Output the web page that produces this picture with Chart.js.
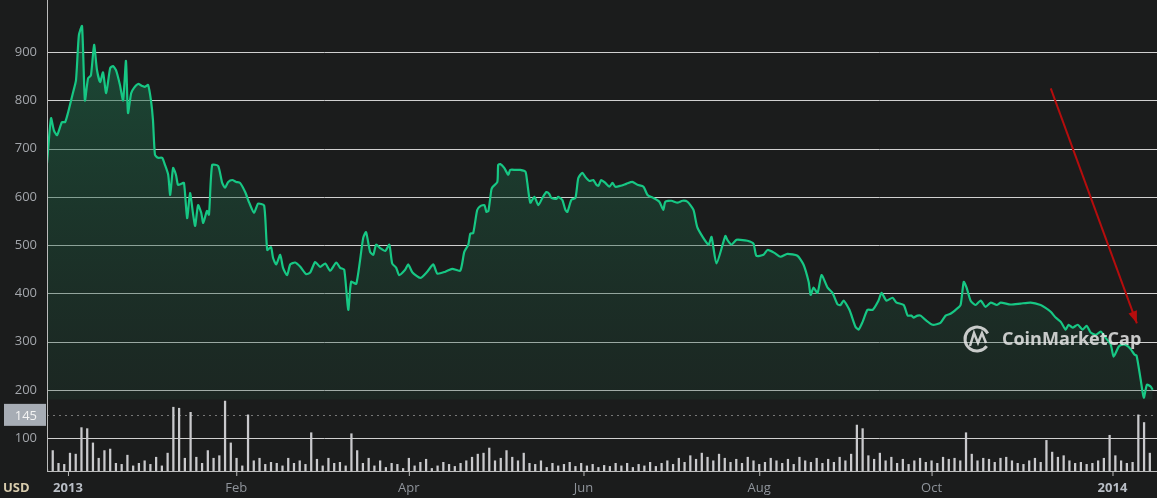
<!DOCTYPE html>
<html><head><meta charset="utf-8">
<script src="https://cdn.jsdelivr.net/npm/chart.js@4"></script>
<style>html,body{margin:0;padding:0;background:#1b1c1c;}#w{width:1157px;height:498px;}</style>
</head><body><div id="w"><canvas id="c"></canvas></div>
<script>
const priceDays=[0,1.4,2.4,3.5,5.2,6.3,7.3,9.1,10.1,11.1,12.2,13.2,14.3,15.3,16.4,17.4,18.5,19.5,20.6,22,23,24,25.4,26.5,27.5,28.2,29.3,30.3,31.7,33.1,34.1,35.2,36.2,36.9,37.6,38.7,40.1,41.1,42.2,42.9,43.9,44.9,45.6,46.7,47.7,48.8,49.8,50.9,51.6,52.6,53.7,54.4,55.7,56.4,57.5,59.6,61,62,63.1,64.5,65.9,67.2,69,70.4,72.1,73.5,75.6,76.7,78,78.7,79.8,81.2,82.2,83.6,84.7,86.4,88.2,90.2,91.6,93.4,95.1,96.9,98.6,100.7,102.1,103.5,104.9,105.9,107.7,110.1,111.1,112.5,113.6,114.6,116,117.8,119.2,120.2,121.6,122.6,124.7,125.8,127.2,130,132.4,134.5,135.9,138.7,141.1,143.9,145.3,146.7,147.4,148.4,149.8,150.9,152.3,153,153.7,154.7,155.1,156.8,157.1,157.8,159.2,160.6,161.3,163.1,164.8,166.6,167.2,168.3,169.7,171.1,172.5,173.9,174.9,175.6,177.4,178,179.4,180.5,181.2,182.6,184,185,186.4,187.5,188.9,190.2,191.3,192,193,194.4,195.8,196.9,197.9,199.7,201.7,203.8,205.6,207.7,209.1,211.1,213.2,214.6,215.3,217.4,219.5,221.3,223,225.1,226.5,230.3,231.4,233.1,236.2,236.9,238.3,240.1,241.5,243.9,246,247,249.5,250.9,253.3,255.4,257.8,261.3,263.4,265.2,265.9,266.9,268.3,269.7,271.8,273.5,275.3,276.3,277.4,279.4,281.5,282.6,284,285.7,287.5,289.5,290.6,292.3,294.4,295.8,298.3,299.7,301,301.7,303.1,304.2,305.9,308.4,311.1,312.9,314.6,316.4,318.1,319.2,320.2,321.6,323.3,325.1,326.8,328.6,330.7,332.1,335.5,339,342.5,346,347.7,349.5,351.2,353,354.7,355.7,357.1,358.9,360.6,362,363.4,365.2,366.9,368.6,370.4,371.4,373.2,374.6,376,377.4,378.7,379.4,380.8,381.9,383,384.3,385];
const prices=[670,763,738,728,755,755,774,817,842,935,954,800,846,852,915,863,838,858,815,867,871,863,832,800,882,774,815,826,834,830,828,832,800,759,687,681,681,666,646,604,660,646,625,627,629,556,608,563,540,583,567,546,571,563,666,664,629,619,631,635,631,629,610,588,567,586,582,490,496,474,460,480,453,438,460,464,455,440,443,465,455,462,447,464,453,449,366,424,420,515,527,486,480,501,494,488,501,462,453,438,449,460,444,432,445,460,441,445,451,447,486,501,524,525,573,581,583,569,571,614,620,631,666,668,660,646,656,656,656,652,631,588,600,583,598,610,606,598,596,600,594,573,569,594,598,639,650,641,633,635,625,623,635,629,621,629,621,623,627,631,625,621,604,598,590,573,590,592,588,592,590,573,536,501,517,462,519,511,501,511,511,509,503,478,480,490,484,476,482,478,460,424,397,412,401,438,412,401,377,376,385,366,331,325,341,366,366,385,401,385,391,381,376,354,354,350,354,354,345,335,339,354,358,366,376,424,412,385,376,385,372,381,376,381,377,379,381,376,370,362,350,341,325,335,329,335,325,333,319,314,321,308,294,269,290,294,292,284,273,271,222,184,211,207,200];
const volDays=[];for(let i=0;i<193;i++)volDays.push(i*2);
const volumes=[38,75,50,48,70,68,120,118,90,60,75,78,50,48,66,45,50,55,48,62,
45,70,160,158,60,150,62,50,75,60,65,172,90,60,45,145,55,60,48,52,
50,45,60,50,55,48,110,58,45,60,50,52,45,108,75,50,60,45,55,42,
50,48,40,60,45,52,58,40,45,52,48,44,50,55,62,68,70,80,55,60,
75,62,55,70,50,48,55,42,50,45,48,52,44,50,45,48,42,46,44,50,
45,50,42,48,45,52,44,50,55,48,60,52,65,58,70,62,55,68,60,52,
58,50,62,55,48,52,60,55,50,58,48,62,55,52,60,50,58,52,62,55,
68,125,118,65,58,70,55,62,50,58,48,55,60,52,55,50,62,58,60,55,
110,68,55,60,58,52,60,62,55,50,48,55,60,52,95,72,62,65,55,50,
52,48,50,55,60,105,65,55,50,52,145,130,70];
const priceTicks=[200,300,400,500,600,700,800,900];
const volTick=100, volMark=145;
const xTickDays=[7.3,65.9,126,186.8,248,308,371];
const xTickLabels=['2013','Feb','Apr','Jun','Aug','Oct','2014'];

const deco={id:'deco',
beforeDraw(ch){const c=ch.ctx;c.save();c.fillStyle='#1b1c1c';c.fillRect(0,0,ch.width,ch.height);
 const a=ch.chartArea,x=ch.scales.x,y=ch.scales.y,v=ch.scales.v;
 c.strokeStyle='#d0d0d0';c.lineWidth=1;
 priceTicks.forEach(t=>{const p=Math.round(y.getPixelForValue(t))+0.5;c.beginPath();c.moveTo(a.left,p);c.lineTo(a.right,p);c.stroke();});
 let p=Math.round(v.getPixelForValue(volTick))+0.5;c.beginPath();c.moveTo(a.left,p);c.lineTo(a.right,p);c.stroke();
 p=Math.round(v.getPixelForValue(volMark))+0.5;c.strokeStyle='#777';c.setLineDash([2,4]);c.beginPath();c.moveTo(a.left,p);c.lineTo(a.right,p);c.stroke();c.setLineDash([]);
 c.restore();},
afterDraw(ch){const c=ch.ctx;c.save();const a=ch.chartArea,x=ch.scales.x,y=ch.scales.y,v=ch.scales.v;
 c.strokeStyle='#bbb';c.lineWidth=1;c.beginPath();c.moveTo(a.left+0.5,0);c.lineTo(a.left+0.5,a.bottom);c.stroke();
 c.beginPath();c.moveTo(a.left,a.bottom+0.5);c.lineTo(a.right,a.bottom+0.5);c.stroke();
 c.font='13px "Open Sans", sans-serif';c.fillStyle='#a3a6ab';c.textAlign='right';c.textBaseline='middle';
 priceTicks.forEach(t=>c.fillText(String(t),37,y.getPixelForValue(t)));
 c.fillText(String(volTick),37,v.getPixelForValue(volTick));
 const mp=v.getPixelForValue(volMark);c.fillStyle='#a7adb5';c.fillRect(4,mp-11,42,22);c.fillStyle='#f4f4f4';c.fillText(String(volMark),37,mp+1);
 c.textAlign='center';c.textBaseline='middle';
 xTickDays.forEach((d,i)=>{const px=x.getPixelForValue(d);c.strokeStyle='#bbb';c.beginPath();c.moveTo(px+0.5,a.bottom);c.lineTo(px+0.5,a.bottom+5);c.stroke();
  const bold=/^\d+$/.test(xTickLabels[i]);c.font=(bold?'bold ':'')+'13px "Open Sans", sans-serif';c.fillStyle=bold?'#b9bec6':'#8f949b';c.fillText(xTickLabels[i],px,488);});
 c.font='bold 13px "Open Sans", sans-serif';c.fillStyle='#d8ccad';c.textAlign='left';c.fillText('USD',3,488);
 const x1=x.getPixelForValue(349.5),y1=y.getPixelForValue(825),x2=x.getPixelForValue(379.5),y2=y.getPixelForValue(338);
 c.strokeStyle='#b50d0d';c.fillStyle='#b50d0d';c.lineWidth=2;c.beginPath();c.moveTo(x1,y1);c.lineTo(x2,y2);c.stroke();
 const ang=Math.atan2(y2-y1,x2-x1),L=13;c.beginPath();c.moveTo(x2,y2);c.lineTo(x2-L*Math.cos(ang-0.35),y2-L*Math.sin(ang-0.35));c.lineTo(x2-L*Math.cos(ang+0.35),y2-L*Math.sin(ang+0.35));c.closePath();c.fill();
 c.globalAlpha=0.85;c.strokeStyle='#e8e8e8';c.lineWidth=3;c.beginPath();c.arc(977,339,12,0.2*Math.PI,1.85*Math.PI);c.stroke();
 c.lineWidth=2.5;c.beginPath();c.moveTo(970,346);c.lineTo(974,333);c.lineTo(978,343);c.lineTo(982,333);c.lineTo(986,343);c.stroke();
 c.font='bold 18px "Open Sans", sans-serif';c.fillStyle='#e6e6e6';c.textBaseline='middle';c.fillText('CoinMarketCap',1002,340);
 c.restore();}};

new Chart(document.getElementById('c'),{
 data:{datasets:[
  {type:'line',data:priceDays.map((d,i)=>({x:d,y:prices[i]})),yAxisID:'y',borderColor:'#17c784',borderWidth:2.2,pointRadius:0,tension:0.2,
   fill:{value:180},backgroundColor(ctx){const ch=ctx.chart,a=ch.chartArea;if(!a)return 'rgba(22,199,132,0.15)';const g=ch.ctx.createLinearGradient(0,40,0,400);g.addColorStop(0,'rgba(28,110,75,0.55)');g.addColorStop(1,'rgba(28,70,52,0.25)');return g;},order:1},
  {type:'bar',data:volDays.map((d,i)=>({x:d,y:volumes[i]})),yAxisID:'v',backgroundColor:'#c9c9cc',barThickness:1.6,order:2}
 ]},
 options:{responsive:true,maintainAspectRatio:false,animation:false,
  layout:{padding:{left:47,right:0,top:0,bottom:27}},
  plugins:{legend:{display:false},tooltip:{enabled:false}},
  scales:{x:{type:'linear',min:0,max:386.5,offset:false,display:false},
   y:{min:32,max:1008,display:false},
   v:{min:35,max:958,display:false}}},
 plugins:[deco]});
</script></body></html>
